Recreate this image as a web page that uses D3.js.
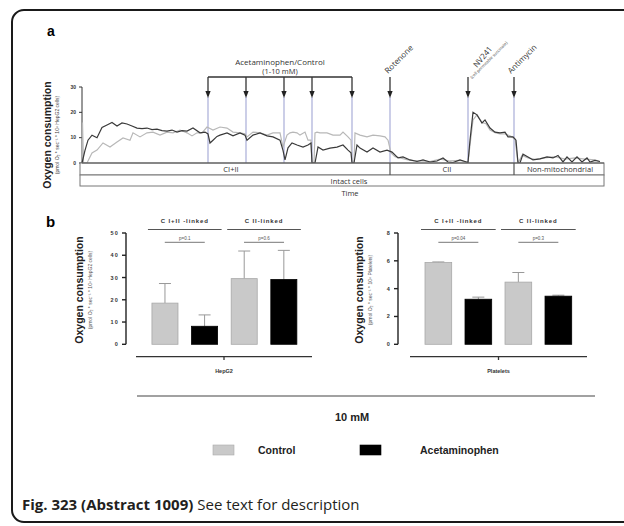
<!DOCTYPE html>
<html><head><meta charset="utf-8">
<script src="https://cdn.jsdelivr.net/npm/d3@7/dist/d3.min.js"></script>
<style>html,body{margin:0;background:#fff;overflow:hidden}svg{display:block}</style>
</head><body>
<svg id="c" width="624" height="526"></svg>
<script>
// ---------- Panel a : trace data (time in arbitrary units) ----------
const acetTime = [0,3,6,10,15,20,25,30,35,40,45,50,55,60,65,70,75,80,85,90,95,100,105,111,118,123,126,128,131,135,138,145,151,158,163,165,171,178,185,191,198,201,203,206,210,215,221,226,229,230,233,236,241,248,255,261,266,269,270,272,275,278,285,291,298,305,310,316,321,328,335,341,348,355,361,366,371,378,383,386,388,391,395,400,403,408,413,418,423,426,431,434,436,438,441,446,451,458,465,471,476,481,485,490,495,500,505,508,513,518];
const acetFlux = [0,5,9,11,10,14,15,16,14.6,15.8,15.4,14.6,13.8,13.6,13.8,13.2,13.4,12.8,12.6,13.0,12.2,12.8,12.6,13.8,11.9,12.2,11.5,7.9,9,10.5,11,11.9,10.7,11.9,11,9,11,11.9,10.7,10.3,9,5,1.2,6,7.9,7.1,6.3,7.1,7.9,0,0,6.3,5.1,5.9,6.3,7.1,5.1,4,0,0,7.1,5.9,4.3,5.9,4.3,5.1,4.3,2,2.4,1.2,0.6,1.2,0.4,0.8,2.0,0.4,0.2,1.2,0.6,0.2,9,20,19,15.8,17,13.8,12.2,11.9,12.2,10.3,10.3,9,0,0,3.5,2.4,1.2,1.6,2.4,2,3,0.4,2.4,0.4,2.4,0.4,2,0.4,1.0,0.6];
const ctrlTime = [0,0.5,1.5,5,10,15,21,28,35,41,48,51,58,65,71,78,85,91,98,105,110,115,120,125,131,138,145,151,158,163,165,171,178,185,191,198,201,205,208,211,215,218,223,226,229,230,232,233,235,238,245,251,258,261,266,269,270,272,273,278,285,291,298,303,306,309,313,318,328,338,348,358,368,378,386,388,391,395,400,404,408,413,418,423,428,433,436,440,446,453,463,473,483,493,503,513,518];
const ctrlFlux = [0,16,0,0,4,5.1,7.9,6.3,8.3,9.9,9,11.9,10.3,11.9,12.2,11,12.2,11.9,13,11.9,10.7,11.9,11.9,14.2,13,14.2,13.8,12.2,11.9,11.5,10.3,12.2,11.9,11,11.9,11.9,6.3,11,11.9,12.2,11.9,11,12.2,9,9,0,0,11.9,12.2,11.9,11.9,11,11,12.2,10.3,9,0,0,11.9,11,10.3,11,10.7,10.3,9,4,2.5,2,1,0.8,0.6,1.5,0.8,1,0.2,7,17,19,16,15.5,13,12,11.5,11.5,10.7,9.5,0,3,2,1.4,2,2.5,1.5,2,1.5,1.2,0.5];
const traceTicks = [0,10,20,30];
const additionTimes = [126,164,202,230,270];
const rotenoneTime = 308, nv241Time = 386, antimycinTime = 432;
const stateSegments = ["CI+II","CII","Non-mitochondrial"];
const stateBounds = [0,308,432,522];

// ---------- Panel b : bar data ----------
const barGroups = ["C I+II -linked","C II-linked"];
const treatments = ["Control","Acetaminophen"];
const hepMean = [18.5, 8.1, 29.5, 29.1];
const hepErr  = [27.3, 13.2, 41.9, 42.2];
const pltMean = [5.88, 3.24, 4.47, 3.46];
const pltErr  = [5.92, 3.39, 5.16, 3.53];
const hepTicks = [0,10,20,30,40,50];
const pltTicks = [0,2,4,6,8];
const hepP = ["p=0.1","p=0.6"];
const pltP = ["p=0.04","p=0.3"];

const svg = d3.select("#c");
const SANS = "'Liberation Sans', Arial, sans-serif";
const OPEN = "'Open Sans', 'Noto Sans', sans-serif";

// frame
svg.append("rect").attr("x",12).attr("y",10).attr("width",700).attr("height",512)
  .attr("rx",12).attr("fill","#fff").attr("stroke","#1a1a1a").attr("stroke-width",2);

svg.append("text").attr("x",47).attr("y",36).text("a")
  .attr("font-family",SANS).attr("font-weight","bold").attr("font-size",14);
svg.append("text").attr("x",46).attr("y",227).text("b")
  .attr("font-family",SANS).attr("font-weight","bold").attr("font-size",15);

// ---------- Panel a ----------
const xT = d3.scaleLinear().domain([0,522]).range([82,604]);
const yT = d3.scaleLinear().domain([0,30]).range([163,87]);
const ga = svg.append("g");

ga.append("line").attr("x1",xT(0)).attr("x2",xT(0)).attr("y1",yT(0)).attr("y2",yT(30)).attr("stroke","#333").attr("stroke-width",1);
traceTicks.forEach(t=>{
  ga.append("line").attr("x1",xT(0)-3).attr("x2",xT(0)).attr("y1",yT(t)).attr("y2",yT(t)).attr("stroke","#333");
  ga.append("text").attr("x",xT(0)-6).attr("y",yT(t)+1.8).attr("text-anchor","end")
    .attr("font-family",SANS).attr("font-size",5).attr("font-weight","bold").attr("fill","#333").text(t);
});
ga.append("text").attr("transform","translate(51,135) rotate(-90)").attr("text-anchor","middle")
  .attr("font-family",SANS).attr("font-weight","bold").attr("font-size",10.5).attr("fill","#222").text("Oxygen consumption");
ga.append("text").attr("transform","translate(59,135) rotate(-90)").attr("text-anchor","middle")
  .attr("font-family",SANS).attr("font-size",5).attr("fill","#444").text("(pmol O\u2082 * sec\u207B\u00B9 * 10\u2076 HepG2 cells)");

const allInj = additionTimes.concat([rotenoneTime,nv241Time,antimycinTime]);
allInj.forEach(t=>{
  ga.append("line").attr("x1",xT(t)).attr("x2",xT(t)).attr("y1",97).attr("y2",yT(0))
    .attr("stroke","#a9add8").attr("stroke-width",1.2);
});

const line = d3.line().x(d=>xT(d[0])).y(d=>yT(d[1]));
ga.append("path").attr("d",line(ctrlTime.map((t,i)=>[t,ctrlFlux[i]])))
  .attr("fill","none").attr("stroke","#b8b8b8").attr("stroke-width",1.2);
ga.append("path").attr("d",line(acetTime.map((t,i)=>[t,acetFlux[i]])))
  .attr("fill","none").attr("stroke","#3a3a3a").attr("stroke-width",1.2);

function arrow(t){
  const x = xT(t);
  ga.append("line").attr("x1",x).attr("x2",x).attr("y1",77).attr("y2",92).attr("stroke","#333").attr("stroke-width",1.3);
  ga.append("path").attr("d",`M${x-2.6},91 L${x+2.6},91 L${x},98 Z`).attr("fill","#222");
}
allInj.forEach(arrow);
ga.append("line").attr("x1",xT(additionTimes[0])).attr("x2",xT(additionTimes[4])).attr("y1",77).attr("y2",77)
  .attr("stroke","#333").attr("stroke-width",1.3);
ga.append("text").attr("x",280).attr("y",65).attr("text-anchor","middle").attr("font-family",OPEN).attr("font-size",8).attr("fill","#333").text("Acetaminophen/Control");
ga.append("text").attr("x",280).attr("y",74).attr("text-anchor","middle").attr("font-family",OPEN).attr("font-size",7.5).attr("fill","#333").text("(1-10 mM)");
ga.append("text").attr("transform",`translate(${xT(rotenoneTime)-2},74) rotate(-45)`).attr("font-family",OPEN).attr("font-size",8).attr("fill","#333").text("Rotenone");
ga.append("text").attr("transform",`translate(${xT(nv241Time)+9},68) rotate(-50)`).attr("font-family",OPEN).attr("font-size",8).attr("fill","#333").text("NV241");
ga.append("text").attr("transform",`translate(${xT(nv241Time)+4},79) rotate(-45)`).attr("font-family",OPEN).attr("font-size",4.2).attr("fill","#444").text("(cell permeable succinate)");
ga.append("text").attr("transform",`translate(${xT(antimycinTime)-3},74) rotate(-45)`).attr("font-family",OPEN).attr("font-size",8).attr("fill","#333").text("Antimycin");

ga.append("rect").attr("x",80).attr("y",163).attr("width",524).attr("height",12).attr("fill","#fff").attr("stroke","#777").attr("stroke-width",1);
ga.append("rect").attr("x",80).attr("y",175).attr("width",524).attr("height",11).attr("fill","#fff").attr("stroke","#777").attr("stroke-width",1);
stateSegments.forEach((s,i)=>{
  if(i>0) ga.append("line").attr("x1",xT(stateBounds[i])).attr("x2",xT(stateBounds[i])).attr("y1",163).attr("y2",175).attr("stroke","#555").attr("stroke-width",1.2);
  ga.append("text").attr("x", i===0?231:(i===1?447:560)).attr("y",172).attr("text-anchor","middle")
    .attr("font-family",OPEN).attr("font-size",7.5).attr("fill","#333").text(s);
});
ga.append("line").attr("x1",xT(0)).attr("x2",604).attr("y1",163).attr("y2",163).attr("stroke","#555").attr("stroke-width",1.2);
ga.append("text").attr("x",349).attr("y",183.5).attr("text-anchor","middle").attr("font-family",OPEN).attr("font-size",7.5).attr("fill","#333").text("Intact cells");
ga.append("text").attr("x",350).attr("y",196).attr("text-anchor","middle").attr("font-family",OPEN).attr("font-size",7.5).attr("fill","#333").text("Time");

// ---------- Panel b ----------
function barChart(opt){
  const g = svg.append("g");
  const keys = ["g0c","g0a","g1c","g1a"];
  const x = d3.scaleBand().domain(keys).range(opt.xr).paddingInner(opt.pi).paddingOuter(0.15);
  const y = d3.scaleLinear().domain([0,opt.max]).range([344.3,233]);
  g.append("line").attr("x1",opt.ax).attr("x2",opt.ax).attr("y1",y(0)).attr("y2",y(opt.max)).attr("stroke","#222").attr("stroke-width",1.4);
  opt.ticks.forEach(t=>{
    g.append("line").attr("x1",opt.ax-4).attr("x2",opt.ax).attr("y1",y(t)).attr("y2",y(t)).attr("stroke","#222").attr("stroke-width",1.4);
    g.append("text").attr("x",opt.ax-7).attr("y",y(t)+2).attr("text-anchor","end").attr("font-family",SANS)
      .attr("font-weight","bold").attr("font-size",5.5).attr("letter-spacing",1.2).attr("fill","#333").text(String(t));
  });
  g.append("text").attr("transform",`translate(${opt.tx},290) rotate(-90)`).attr("text-anchor","middle")
    .attr("font-family",SANS).attr("font-weight","bold").attr("font-size",10.5).attr("fill","#222").text("Oxygen consumption");
  g.append("text").attr("transform",`translate(${opt.tx+9},290) rotate(-90)`).attr("text-anchor","middle")
    .attr("font-family",SANS).attr("font-size",5).attr("fill","#555").text(opt.sub);
  keys.forEach((k,i)=>{
    const ctrl = i%2===0;
    const cx = x(k)+x.bandwidth()/2;
    g.append("line").attr("x1",cx).attr("x2",cx).attr("y1",y(opt.mean[i])).attr("y2",y(opt.err[i])).attr("stroke","#999").attr("stroke-width",1);
    g.append("line").attr("x1",cx-6).attr("x2",cx+6).attr("y1",y(opt.err[i])).attr("y2",y(opt.err[i])).attr("stroke","#999").attr("stroke-width",1);
    g.append("rect").attr("x",x(k)).attr("y",y(opt.mean[i])).attr("width",x.bandwidth()).attr("height",y(0)-y(opt.mean[i]))
      .attr("fill",ctrl?"#c9c9c9":"#000").attr("stroke",ctrl?"#a8a8a8":"#000").attr("stroke-width",0.8);
  });
  barGroups.forEach((gl,j)=>{
    const x0 = x(keys[2*j]), x1 = x(keys[2*j+1])+x.bandwidth();
    const cx = (x0+x1)/2;
    g.append("text").attr("x",cx).attr("y",223).attr("text-anchor","middle").attr("font-family",SANS)
      .attr("font-weight","bold").attr("font-size",6).attr("letter-spacing",0.9).attr("fill","#333").text(gl);
    g.append("line").attr("x1",x0-4).attr("x2",x1+4).attr("y1",229.5).attr("y2",229.5).attr("stroke","#555").attr("stroke-width",1.2);
    g.append("text").attr("x",cx).attr("y",240).attr("text-anchor","middle").attr("font-family",SANS)
      .attr("font-size",4.5).attr("fill","#555").text(opt.p[j]);
    g.append("line").attr("x1",cx-20).attr("x2",cx+20).attr("y1",242.3).attr("y2",242.3).attr("stroke","#777").attr("stroke-width",1);
  });
  g.append("line").attr("x1",opt.bl[0]).attr("x2",opt.bl[1]).attr("y1",356.7).attr("y2",356.7).attr("stroke","#333").attr("stroke-width",1.3);
  const mid = (opt.bl[0]+opt.bl[1])/2;
  g.append("line").attr("x1",mid).attr("x2",mid).attr("y1",356.7).attr("y2",360).attr("stroke","#333").attr("stroke-width",1.3);
  g.append("text").attr("x",mid).attr("y",373).attr("text-anchor","middle").attr("font-family",SANS)
    .attr("font-weight","bold").attr("font-size",5.5).attr("fill","#333").text(opt.name);
}
barChart({xr:[146,302.8],pi:0.343,ax:126,max:50,ticks:hepTicks,mean:hepMean,err:hepErr,p:hepP,
  tx:83,sub:"(pmol O\u2082 * sec\u207B\u00B9 * 10\u2076 HepG2 cells)",bl:[136,312],name:"HepG2"});
barChart({xr:[419,577.7],pi:0.333,ax:398,max:8,ticks:pltTicks,mean:pltMean,err:pltErr,p:pltP,
  tx:363,sub:"(pmol O\u2082 * sec\u207B\u00B9 * 10\u2076 Platelets)",bl:[410,587],name:"Platelets"});

svg.append("line").attr("x1",137).attr("x2",595).attr("y1",396).attr("y2",396).attr("stroke","#444").attr("stroke-width",1.2);
svg.append("text").attr("x",352).attr("y",421).attr("text-anchor","middle").attr("font-family",SANS)
  .attr("font-weight","bold").attr("font-size",11).attr("fill","#222").text("10 mM");

const legX = [213,360], legT = [258,420];
treatments.forEach((t,i)=>{
  svg.append("rect").attr("x",legX[i]).attr("y",445).attr("width",21).attr("height",10)
    .attr("fill",i===0?"#c9c9c9":"#000").attr("stroke",i===0?"#aaa":"#000").attr("stroke-width",0.6);
  svg.append("text").attr("x",legT[i]).attr("y",454).attr("font-family",SANS).attr("font-weight","bold")
    .attr("font-size",10.5).attr("fill","#222").text(t);
});

const cap = svg.append("text").attr("x",22).attr("y",510).attr("font-family",OPEN).attr("font-size",15).attr("fill","#231f20");
cap.append("tspan").attr("font-weight","bold").text("Fig. 323 (Abstract 1009)");
cap.append("tspan").text(" See text for description");
</script>
</body></html>
